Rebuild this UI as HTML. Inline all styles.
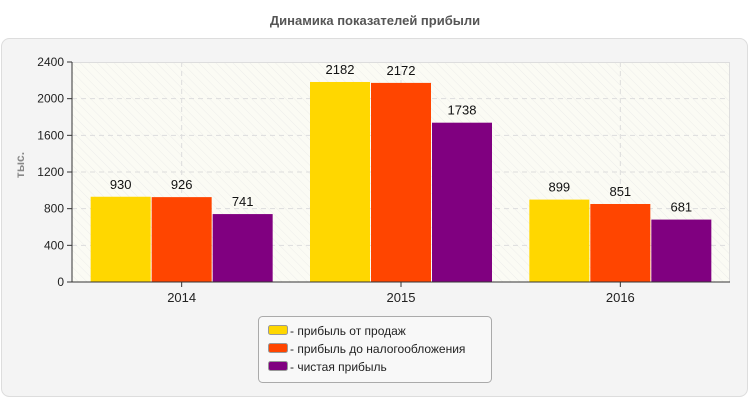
<!DOCTYPE html>
<html><head><meta charset="utf-8"><style>
body{margin:0;background:#fff;font-family:"Liberation Sans",sans-serif;}
svg{display:block}
</style></head><body>
<svg width="750" height="400" xmlns="http://www.w3.org/2000/svg">
<defs>
<pattern id="hatch" width="6" height="6" patternUnits="userSpaceOnUse" patternTransform="rotate(-45)">
<rect width="6" height="6" fill="#fbfbf4"/><line x1="0" y1="0" x2="0" y2="6" stroke="#ededea" stroke-width="1"/>
</pattern>
</defs>
<text x="375" y="25" text-anchor="middle" font-size="13" font-weight="bold" fill="#555">Динамика показателей прибыли</text>
<rect x="1.5" y="38.5" width="746" height="358" rx="8" fill="#f4f4f4" stroke="#ddd"/>
<rect x="72" y="62.5" width="657.5" height="219.5" fill="url(#hatch)" stroke="#ddd"/>
<g id="grid"></g>
<g id="bars"></g>
<g id="axes"></g>
<text transform="translate(24,165) rotate(-90)" text-anchor="middle" font-size="12" font-weight="bold" fill="#888">тыс.</text>
<g>
<rect x="258.5" y="316.5" width="233" height="66" rx="4" fill="#f8f8f8" stroke="#aaa"/>
<g id="legend"></g>
</g>
</svg>
<script>
const categories=["2014","2015","2016"];
const seriesNames=["прибыль от продаж","прибыль до налогообложения","чистая прибыль"];
const sales=[930,2182,899];
const pretax=[926,2172,851];
const net=[741,1738,681];
const yTicks=[0,400,800,1200,1600,2000,2400];
const colors=["#ffd700","#ff4500","#800080"];
const series=[sales,pretax,net];
const NS="http://www.w3.org/2000/svg";
const X0=72,X1=730,Y0=282,Y1=62,YMAX=2400;
const y=v=>Y0-(v/YMAX)*(Y0-Y1);
const catW=(X1-X0)/categories.length;
const cx=i=>X0+catW*(i+0.5);
function mk(tag,attrs,parent){const e=document.createElementNS(NS,tag);for(const k in attrs)e.setAttribute(k,attrs[k]);document.getElementById(parent).appendChild(e);return e;}
yTicks.forEach(t=>{
  if(t>0&&t<YMAX){const g=mk('line',{x1:X0,x2:X1,y1:y(t),y2:y(t),stroke:'#ddd','stroke-dasharray':'5,4'},'grid');
  
  }
  const tk=mk('line',{x1:X0-5,x2:X0,y1:y(t),y2:y(t),stroke:'#333'},'axes');
  
  
  const tl=mk('text',{x:X0-8,y:y(t)+4,'text-anchor':'end','font-size':12,fill:'#222'},'axes');
  tl.textContent=t;
  
  
});
categories.forEach((c,i)=>{
  const g=mk('line',{x1:cx(i),x2:cx(i),y1:Y1,y2:Y0,stroke:'#ddd','stroke-dasharray':'5,4'},'grid');
  
  
  const tk=mk('line',{x1:cx(i),x2:cx(i),y1:Y0,y2:Y0+5,stroke:'#333'},'axes');
  
  
  const tl=mk('text',{x:cx(i),y:Y0+20,'text-anchor':'middle','font-size':13,fill:'#222'},'axes');
  tl.textContent=c;
  
  
  const bw=60,gap=1,total=bw*3+gap*2;
  series.forEach((s,j)=>{
    const bx=cx(i)-total/2+j*(bw+gap);
    const r=mk('rect',{x:bx,y:y(s[i]),width:bw,height:Y0-y(s[i]),fill:colors[j]},'bars');
    
    
    const vl=mk('text',{x:bx+bw/2,y:y(s[i])-8,'text-anchor':'middle','font-size':13,fill:'#111'},'bars');
    vl.textContent=s[i];
    
    
  });
});
const ax=mk('line',{x1:X0,x2:X0,y1:Y1,y2:Y0,stroke:'#333'},'axes');


const axx=mk('line',{x1:X0,x2:X1,y1:Y0,y2:Y0,stroke:'#333'},'axes');


seriesNames.forEach((n,j)=>{
  const yy=325+j*18;
  const sw=mk('rect',{x:268.5,y:yy+0.5,width:19,height:9,rx:2,fill:colors[j],stroke:'#999'},'legend');
  
  
  const t=mk('text',{x:290,y:yy+10,'font-size':12,fill:'#222'},'legend');
  t.textContent='- '+n;
  
  
});
</script>
</body></html>
